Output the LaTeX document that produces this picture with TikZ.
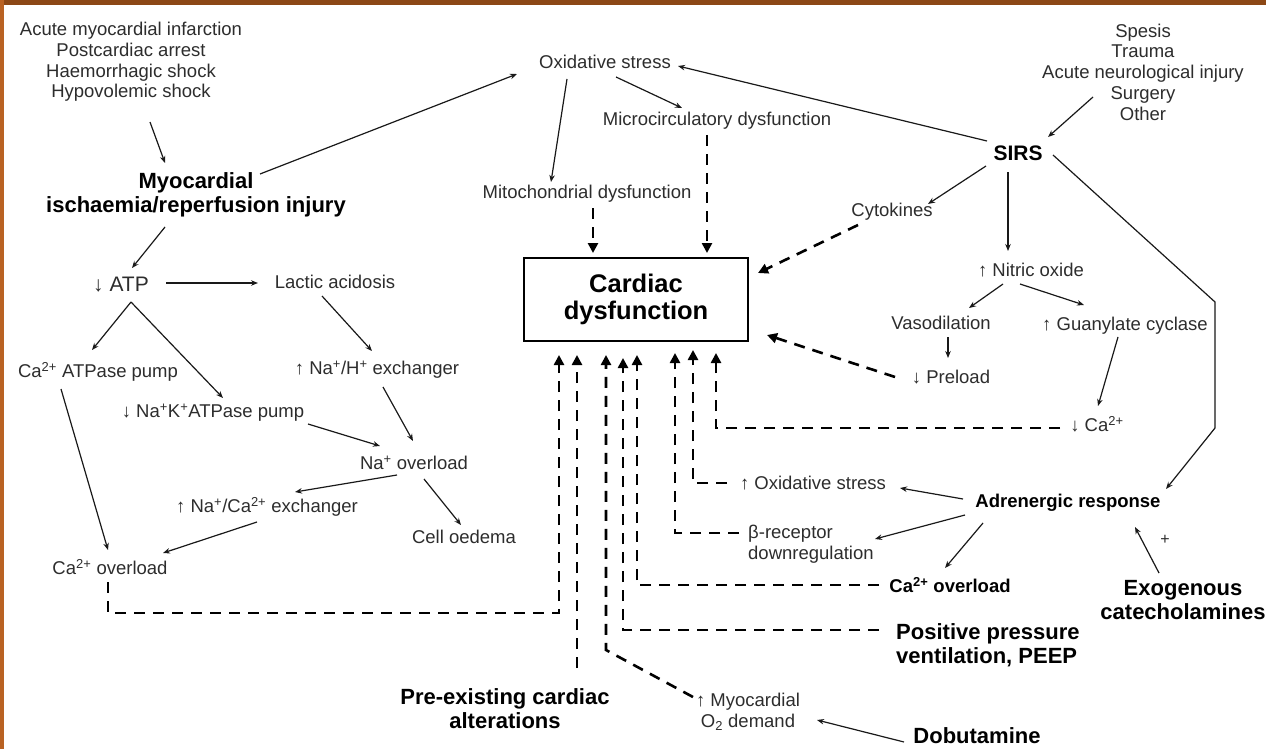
\documentclass[tikz,border=0pt]{standalone}
\usepackage{fontspec}
\setmainfont{Liberation Sans}
\usetikzlibrary{arrows.meta,calc}
\definecolor{txt}{RGB}{45,45,45}
\definecolor{ln}{RGB}{25,25,25}
\definecolor{topbar}{RGB}{140,72,22}
\definecolor{leftbar}{RGB}{185,98,35}
\begin{document}
\begin{tikzpicture}[x=1pt,y=-1pt,
  rl/.style={font=\fontsize{18.5}{20.7}\selectfont, text=txt, inner sep=0pt, align=center},
  bl/.style={font=\fontsize{22}{24}\selectfont\bfseries, text=black, inner sep=0pt, align=center},
  sbl/.style={font=\fontsize{18.5}{21}\selectfont\bfseries, text=black, inner sep=0pt},
  arr/.style={draw=ln, line width=1.2pt, -{Stealth[length=7pt,width=5.5pt]}},
  darr/.style={draw=black, line width=2.6pt, dash pattern=on 11pt off 8pt, -{Triangle[length=10pt,width=10pt]}}
]
\useasboundingbox (0,0) rectangle (1266,749);
\fill[white] (0,0) rectangle (1266,749);
\fill[topbar] (0,0) rectangle (1266,5);
\fill[leftbar] (0,0) rectangle (4,749);

% ---------- nodes ----------
\node[rl] (causesL) at (131,62) {Acute myocardial infarction\\Postcardiac arrest\\Haemorrhagic shock\\Hypovolemic shock};
\node[bl] (myo) at (196,195) {Myocardial\\ischaemia/reperfusion injury};
\node[rl] (ox) at (605,62) {Oxidative stress};
\node[rl] (micro) at (717,121) {Microcirculatory dysfunction};
\node[rl] (mito) at (587,194) {Mitochondrial dysfunction};
\node[rl] (causesR) at (1143,72) {Spesis\\Trauma\\Acute neurological injury\\Surgery\\Other};
\node[bl, font=\fontsize{21}{24}\selectfont\bfseries] (sirs) at (1018,153) {SIRS};
\node[rl] (cyto) at (892,212) {Cytokines};
\node[rl] (no) at (1031,270) {↑ Nitric oxide};
\node[rl] (vaso) at (941,323) {Vasodilation};
\node[rl] (guan) at (1125,326) {↑ Guanylate cyclase};
\node[rl] (pre) at (951,377) {↓ Preload};
\node[rl] (dca) at (1097,424) {↓ Ca\textsuperscript{2+}};
\node[draw=black, line width=2.4pt, minimum width=224pt, minimum height=83pt, align=center,
      font=\fontsize{25.5}{27}\selectfont\bfseries, inner sep=0pt] (card) at (636,299.5) {Cardiac\\dysfunction};

\node[rl, font=\fontsize{21}{24}\selectfont] (atp) at (121,285) {↓ ATP};
\node[rl] (lactic) at (335,282) {Lactic acidosis};
\node[rl] (caatp) at (98,372) {Ca\textsuperscript{2+} ATPase pump};
\node[rl] (nakatp) at (213,413) {↓ Na\textsuperscript{+}K\textsuperscript{+}ATPase pump};
\node[rl] (nah) at (377,370) {↑ Na\textsuperscript{+}/H\textsuperscript{+} exchanger};
\node[rl] (naover) at (414,463) {Na\textsuperscript{+} overload};
\node[rl] (naca) at (267,507) {↑ Na\textsuperscript{+}/Ca\textsuperscript{2+} exchanger};
\node[rl] (oedema) at (464,537) {Cell oedema};
\node[rl] (caoverL) at (110,567) {Ca\textsuperscript{2+} overload};

\node[rl] (oxs2) at (813,483) {↑ Oxidative stress};
\node[rl, align=left, anchor=west] (beta) at (748,544) {β-receptor\\downregulation};
\node[sbl] (caoverR) at (950,585) {Ca\textsuperscript{2+} overload};
\node[bl, align=left, anchor=west] (ppv) at (896,645) {Positive pressure\\ventilation, PEEP};
\node[sbl] (adr) at (1068,503) {Adrenergic response};
\node[bl] (exo) at (1183,600) {Exogenous\\catecholamines};
\node[rl, font=\fontsize{16}{16}\selectfont] (plus) at (1165,540) {+};
\node[bl] (preex) at (505,709) {Pre-existing cardiac\\alterations};
\node[rl] (myod) at (748,712) {↑ Myocardial\\O\textsubscript{2} demand};
\node[bl] (dobu) at (977,736) {Dobutamine};

% ---------- solid connectors ----------
\draw[arr] ($(causesL)+(19,60)$) -- ($(myo)+(-31,-32)$);
\draw[arr] ($(myo)+(64,-21)$) -- ($(ox)+(-88,12)$);
\draw[arr] ($(myo)+(-31,32)$) -- ($(atp)+(11,-17)$);
\draw[arr] ($(ox)+(-38,17)$) -- ($(mito)+(-36,-12)$);
\draw[arr] ($(ox)+(11,15)$) -- ($(micro)+(-35,-13)$);
\draw[arr] ($(sirs)+(-31,-12)$) -- ($(ox)+(73,4)$);
\draw[arr] ($(causesR)+(-50,25)$) -- ($(sirs)+(30,-16)$);
\draw[arr] ($(sirs)+(-32,13)$) -- ($(cyto)+(36,-8)$);
\draw[arr] ($(sirs)+(-10,19)$) -- ($(no)+(-23,-19)$);
\draw[arr] ($(sirs)+(35,2)$) -- ++(162,147) -- ++(0,126) -- ($(adr)+(98,-14)$);
\draw[arr] ($(no)+(-28,14)$) -- ($(vaso)+(28,-15)$);
\draw[arr] ($(no)+(-11,14)$) -- ($(guan)+(-41,-21)$);
\draw[arr] ($(vaso)+(7,14)$) -- ($(pre)+(-3,-19)$);
\draw[arr] ($(guan)+(-7,11)$) -- ($(dca)+(1,-18)$);
\draw[arr] ($(atp)+(45,-2)$) -- ($(lactic)+(-77,1)$);
\draw[arr] ($(atp)+(10,17)$) -- ($(caatp)+(-6,-22)$);
\draw[arr] ($(atp)+(10,17)$) -- ($(nakatp)+(10,-15)$);
\draw[arr] ($(lactic)+(-13,14)$) -- ($(nah)+(-5,-19)$);
\draw[arr] ($(nah)+(6,17)$) -- ($(naover)+(-1,-22)$);
\draw[arr] ($(nakatp)+(95,11)$) -- ($(naover)+(-34,-17)$);
\draw[arr] ($(naover)+(-17,12)$) -- ($(naca)+(28,-15)$);
\draw[arr] ($(naover)+(10,16)$) -- ($(oedema)+(-3,-12)$);
\draw[arr] ($(naca)+(-10,15)$) -- ($(caoverL)+(53,-14)$);
\draw[arr] ($(caatp)+(-37,17)$) -- ($(caoverL)+(-2,-17)$);
\draw[arr] ($(adr)+(-105,-4)$) -- ($(oxs2)+(87,5)$);
\draw[arr] ($(adr)+(-103,12)$) -- ($(beta.west)+(127,-5)$);
\draw[arr] ($(adr)+(-85,20)$) -- ($(caoverR)+(-5,-17)$);
\draw[arr] ($(exo)+(-24,-27)$) -- ($(adr)+(67,24)$);
\draw[arr] ($(dobu)+(-73,6)$) -- ($(myod)+(69,8)$);

% ---------- dashed connectors ----------
\draw[darr] ($(mito)+(6,14)$) -- ($(card)+(-43,-46.5)$);
\draw[darr] ($(micro)+(-10,14)$) -- ($(card)+(71,-46.5)$);
\draw[darr] ($(cyto)+(-34,13)$) -- ($(card)+(122,-26.5)$);
\draw[darr] ($(pre)+(-56,0)$) -- ($(card)+(131,35.5)$);
\draw[darr] ($(dca)+(-37,4)$) -| ($(card)+(80,53.5)$);
\draw[darr] ($(oxs2)+(-86,0)$) -| ($(card)+(57,50.5)$);
\draw[darr] ($(beta.west)+(-9,-11)$) -| ($(card)+(39,53.5)$);
\draw[darr] ($(caoverR)+(-71,0)$) -| ($(card)+(1,55.5)$);
\draw[darr] ($(ppv.west)+(-17,-15)$) -| ($(card)+(-13,58.5)$);
\draw[darr] ($(myod)+(-55,-15)$) -- ++(-87,-47) -- ($(card)+(-30,55.5)$);
\draw[darr] ($(preex)+(72,-41)$) -- ($(card)+(-59,55.5)$);
\draw[darr] ($(caoverL)+(-2,15)$) -- ++(0,31) -| ($(card)+(-77,55.5)$);
\end{tikzpicture}
\end{document}
